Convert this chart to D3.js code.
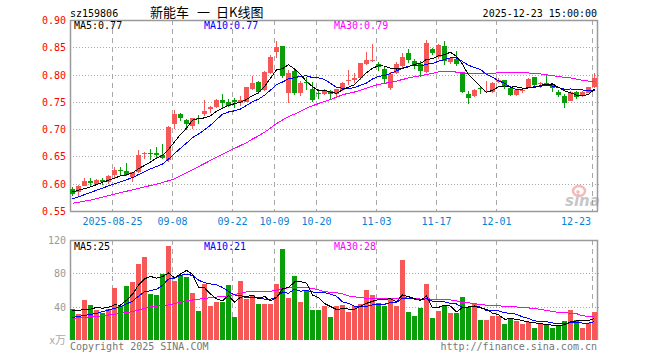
<!DOCTYPE html>
<html>
<head>
<meta charset="utf-8">
<script src="https://cdn.jsdelivr.net/npm/d3@7"></script>
<style>
  body { margin: 0; background: #fff; }
  svg text { font-family: "DejaVu Sans Mono", monospace; font-size: 10px; }
</style>
</head>
<body>
<svg id="chart" width="660" height="360"></svg>
<script>
// sz159806 daily K chart, 2025-08-14 .. 2025-12-23

var dates = [
  "2025-08-14","2025-08-15","2025-08-18","2025-08-19","2025-08-20","2025-08-21","2025-08-22","2025-08-25","2025-08-26","2025-08-27",
  "2025-08-28","2025-08-29","2025-09-01","2025-09-02","2025-09-03","2025-09-04","2025-09-05","2025-09-08","2025-09-09","2025-09-10",
  "2025-09-11","2025-09-12","2025-09-15","2025-09-16","2025-09-17","2025-09-18","2025-09-19","2025-09-22","2025-09-23","2025-09-24",
  "2025-09-25","2025-09-26","2025-09-29","2025-09-30","2025-10-09","2025-10-10","2025-10-13","2025-10-14","2025-10-15","2025-10-16",
  "2025-10-17","2025-10-20","2025-10-21","2025-10-22","2025-10-23","2025-10-24","2025-10-27","2025-10-28","2025-10-29","2025-10-30",
  "2025-10-31","2025-11-03","2025-11-04","2025-11-05","2025-11-06","2025-11-07","2025-11-10","2025-11-11","2025-11-12","2025-11-13",
  "2025-11-14","2025-11-17","2025-11-18","2025-11-19","2025-11-20","2025-11-21","2025-11-24","2025-11-25","2025-11-26","2025-11-27",
  "2025-11-28","2025-12-01","2025-12-02","2025-12-03","2025-12-04","2025-12-05","2025-12-08","2025-12-09","2025-12-10","2025-12-11",
  "2025-12-12","2025-12-15","2025-12-16","2025-12-17","2025-12-18","2025-12-19","2025-12-22","2025-12-23"
];

var opens = [
  0.591,0.584,0.596,0.605,0.600,0.607,0.603,0.616,0.625,0.624,
  0.613,0.621,0.654,0.657,0.657,0.652,0.643,0.709,0.727,0.717,
  0.706,0.720,0.727,0.737,0.740,0.754,0.750,0.753,0.748,0.750,
  0.774,0.787,0.771,0.803,0.842,0.852,0.766,0.807,0.766,0.787,
  0.774,0.767,0.765,0.769,0.765,0.771,0.789,0.790,0.794,0.820,
  0.825,0.820,0.811,0.776,0.802,0.815,0.839,0.825,0.820,0.804,
  0.847,0.832,0.852,0.823,0.828,0.802,0.764,0.760,0.775,0.768,
  0.768,0.787,0.790,0.776,0.762,0.771,0.776,0.796,0.782,0.785,
  0.780,0.768,0.760,0.751,0.768,0.762,0.767,0.777
];
var highs = [
  0.594,0.598,0.610,0.611,0.608,0.611,0.616,0.630,0.631,0.638,
  0.622,0.661,0.658,0.664,0.668,0.673,0.705,0.735,0.729,0.719,
  0.721,0.726,0.753,0.742,0.755,0.764,0.755,0.757,0.760,0.777,
  0.798,0.789,0.806,0.835,0.861,0.852,0.809,0.809,0.788,0.795,
  0.786,0.774,0.774,0.771,0.774,0.787,0.809,0.803,0.822,0.842,
  0.856,0.823,0.815,0.805,0.823,0.840,0.847,0.829,0.824,0.863,
  0.849,0.856,0.862,0.832,0.843,0.804,0.770,0.773,0.778,0.788,
  0.787,0.794,0.790,0.779,0.773,0.776,0.793,0.796,0.787,0.799,
  0.782,0.771,0.765,0.770,0.769,0.770,0.778,0.802
];
var lows = [
  0.578,0.578,0.595,0.595,0.598,0.597,0.600,0.611,0.615,0.614,
  0.603,0.619,0.645,0.643,0.646,0.646,0.640,0.700,0.715,0.699,
  0.700,0.709,0.724,0.729,0.738,0.739,0.741,0.738,0.742,0.749,
  0.771,0.765,0.769,0.801,0.831,0.793,0.748,0.762,0.761,0.772,
  0.750,0.756,0.762,0.753,0.757,0.770,0.781,0.785,0.790,0.818,
  0.823,0.807,0.782,0.772,0.801,0.811,0.822,0.811,0.795,0.802,
  0.835,0.828,0.818,0.819,0.816,0.766,0.746,0.759,0.765,0.767,
  0.767,0.785,0.773,0.760,0.761,0.766,0.775,0.779,0.776,0.779,
  0.768,0.759,0.739,0.751,0.755,0.758,0.766,0.776
];
var closes = [
  0.582,0.596,0.605,0.602,0.607,0.603,0.614,0.625,0.623,0.616,
  0.621,0.652,0.656,0.654,0.652,0.647,0.704,0.727,0.721,0.710,
  0.720,0.719,0.733,0.740,0.753,0.748,0.743,0.749,0.754,0.777,
  0.785,0.768,0.805,0.833,0.851,0.798,0.803,0.766,0.784,0.784,
  0.753,0.765,0.772,0.764,0.774,0.785,0.790,0.794,0.822,0.826,
  0.826,0.813,0.791,0.801,0.820,0.833,0.826,0.815,0.807,0.858,
  0.839,0.854,0.824,0.830,0.819,0.768,0.757,0.771,0.773,0.769,
  0.785,0.790,0.779,0.762,0.772,0.772,0.792,0.781,0.785,0.781,
  0.775,0.762,0.748,0.768,0.759,0.768,0.777,0.794
];
// volume in 万 (10k) lots
var volumes = [
  37.5,31.5,48.6,41.5,36.3,33,37,62.4,41,64.8,
  69.6,91.6,100,55.6,54,79.6,113,71,78,76,
  56.8,35,67.6,41,46,46,66,28,71,49.6,
  54,43.6,43.6,43.6,67.6,109,50.8,77,46,59,
  36.4,36.4,41,28,40.8,42,34,40.8,43.2,60,
  54,45,40.8,48.8,40.8,96,33.6,28.8,38.4,67.2,
  26.4,35.2,41.6,32.8,32.8,51.6,39.2,44.8,24,24,
  29.2,29.2,19.2,24.8,23.2,19.2,21.6,14.4,19.2,19.2,
  14.4,16.8,23.2,36,24,14.4,20,33.6
];

// moving-average values for the first bars
// (their windows reach back before the first bar shown)
var priceMa5Head  = [[0, 0.585], [3, 0.594]];
var priceMa10Head = [[0, 0.572], [3, 0.584], [7, 0.600]];
var priceMa30Head = [[0, 0.564], [3, 0.570], [7, 0.581], [12, 0.594], [15, 0.602], [17, 0.609],
                     [19, 0.620], [22, 0.637], [25, 0.654], [28, 0.670]];
var volMa5Head  = [[0, 35], [3, 37]];
var volMa10Head = [[0, 27], [4, 32], [8, 40]];
var volMa30Head = [[0, 26], [5, 29], [10, 34], [13, 40], [16, 42], [19, 47], [22, 50], [26, 53]];

var priceTicks = [0.55, 0.60, 0.65, 0.70, 0.75, 0.80, 0.85, 0.90];
var volTicks = [40, 80, 120];
var tickDates = ["2025-08-25","2025-09-08","2025-09-22","2025-10-09","2025-10-20",
                 "2025-11-03","2025-11-17","2025-12-01","2025-12-23"];

var title = "sz159806", titleName = ["新能车", "一", "日K线图"], stamp = "2025-12-23 15:00:00";
var maLabels = { ma5: "MA5:0.77", ma10: "MA10:0.77", ma30: "MA30:0.79" };
var volLabels = { ma5: "MA5:25", ma10: "MA10:21", ma30: "MA30:28" };

var RED = "#f65858", GREEN = "#0a9e0a", GRID = "#a8a8a8", FRAME = "#9a9a9a";
var LEFT = 70, RIGHT = 597;

var svg = d3.select("#chart");

var x = d3.scaleBand().domain(dates).range([LEFT, RIGHT]).paddingInner(1 / 6).paddingOuter(0);
var xc = function(i) { return x(dates[i]) + 2.5; };
var y = d3.scaleLinear().domain([0.55, 0.90]).range([211, 20]);
var yv = d3.scaleLinear().domain([0, 120]).range([340, 240]);

function isUp(i) { return closes[i] >= opens[i]; }

function movingAvg(values, n, head) {
  var pts = head.map(function(d) { return { i: d[0], v: d[1] }; });
  for (var i = n - 1; i < values.length; i++) {
    pts.push({ i: i, v: d3.mean(values.slice(i - n + 1, i + 1)) });
  }
  return pts;
}

function drawPanel(yScale, top, bottom, hTicks) {
  var g = svg.append("g");
  // horizontal dotted lines
  g.selectAll("line.h").data(hTicks).enter().append("line")
    .attr("x1", LEFT).attr("x2", RIGHT + 3)
    .attr("y1", function(d) { return Math.round(yScale(d)) + 0.5; })
    .attr("y2", function(d) { return Math.round(yScale(d)) + 0.5; })
    .attr("stroke", GRID).attr("stroke-dasharray", "1,2");
  // vertical dashed lines at the date ticks
  g.selectAll("line.v").data(tickDates).enter().append("line")
    .attr("x1", function(d) { return x(d) + 0.5; })
    .attr("x2", function(d) { return x(d) + 0.5; })
    .attr("y1", top).attr("y2", bottom)
    .attr("stroke", GRID).attr("stroke-dasharray", "5,4");
  // frame
  g.append("path")
    .attr("d", "M" + (RIGHT + 0.5) + "," + bottom + "V" + (top + 0.5) + "H" + (LEFT + 0.5) + "V" + bottom)
    .attr("fill", "none").attr("stroke", FRAME).attr("stroke-width", 1.5);
  return g;
}

// ---- price panel
drawPanel(y, 20, 211, [0.60, 0.65, 0.70, 0.75, 0.80, 0.85]);
svg.append("line").attr("x1", LEFT).attr("x2", RIGHT + 1)
  .attr("y1", 211.5).attr("y2", 211.5).attr("stroke", FRAME).attr("stroke-width", 1.5);

svg.append("g").selectAll("text").data(priceTicks).enter().append("text")
  .attr("x", 66).attr("y", function(d) { return y(d) + 4; })
  .attr("text-anchor", "end").attr("fill", "#f00")
  .text(function(d) { return d.toFixed(2); });

var candles = svg.append("g").attr("shape-rendering", "crispEdges");
var idx = d3.range(dates.length);
candles.selectAll("rect.wick").data(idx).enter().append("rect")
  .attr("x", function(i) { return x(dates[i]) + 2; })
  .attr("width", 1)
  .attr("y", function(i) { return y(highs[i]); })
  .attr("height", function(i) { return Math.max(1, y(lows[i]) - y(highs[i])); })
  .attr("fill", function(i) { return isUp(i) ? RED : GREEN; });
candles.selectAll("rect.body").data(idx).enter().append("rect")
  .attr("x", function(i) { return x(dates[i]); })
  .attr("width", x.bandwidth())
  .attr("y", function(i) { return y(Math.max(opens[i], closes[i])); })
  .attr("height", function(i) { return Math.max(1, Math.abs(y(opens[i]) - y(closes[i]))); })
  .attr("fill", function(i) { return isUp(i) ? RED : GREEN; });

var priceLine = d3.line().x(function(d) { return xc(d.i); }).y(function(d) { return y(d.v); });
[[priceMa30Head, 30, "#f0f"], [priceMa10Head, 10, "#00f"], [priceMa5Head, 5, "#000"]].forEach(function(m) {
  svg.append("path").datum(movingAvg(closes, m[1], m[0]))
    .attr("d", priceLine).attr("fill", "none").attr("stroke", m[2])
    .attr("stroke-width", 1).attr("shape-rendering", "crispEdges");
});

// date labels
svg.append("g").selectAll("text").data(tickDates).enter().append("text")
  .attr("x", function(d, i) { return i === tickDates.length - 1 ? x(d) - 1 : x(d) + 0.5; })
  .attr("y", 225)
  .attr("text-anchor", function(d, i) { return i === tickDates.length - 1 ? "end" : "middle"; })
  .attr("fill", "#0a7fd4")
  .text(function(d, i) { return i === 0 ? d : d.slice(5); });

// ---- volume panel
drawPanel(yv, 240, 340, [40, 80]);
svg.append("g").selectAll("text").data(volTicks).enter().append("text")
  .attr("x", 66).attr("y", function(d) { return yv(d) + 4; })
  .attr("text-anchor", "end").attr("fill", "#999")
  .text(function(d) { return d; });
svg.append("text").attr("x", 66).attr("y", 344).attr("text-anchor", "end")
  .attr("fill", "#aaa").style("font-family", "'Noto Sans CJK SC'").style("font-size", "11px").text("x万");

svg.append("g").attr("shape-rendering", "crispEdges")
  .selectAll("rect").data(idx).enter().append("rect")
  .attr("x", function(i) { return x(dates[i]); })
  .attr("width", x.bandwidth())
  .attr("y", function(i) { return yv(volumes[i]); })
  .attr("height", function(i) { return yv(0) - yv(volumes[i]); })
  .attr("fill", function(i) { return isUp(i) ? RED : GREEN; });

var volLine = d3.line().x(function(d) { return xc(d.i); }).y(function(d) { return yv(d.v); });
[[volMa30Head, 30, "#f0f"], [volMa10Head, 10, "#00f"], [volMa5Head, 5, "#000"]].forEach(function(m) {
  svg.append("path").datum(movingAvg(volumes, m[1], m[0]))
    .attr("d", volLine).attr("fill", "none").attr("stroke", m[2])
    .attr("stroke-width", 1).attr("shape-rendering", "crispEdges");
});

// ---- texts
svg.append("text").attr("x", 70).attr("y", 17).text(title);
svg.append("text").attr("x", 597).attr("y", 17).attr("text-anchor", "end").text(stamp);
svg.append("g").selectAll("text").data(titleName).enter().append("text")
  .attr("x", function(d, i) { return [150, 197, 216][i]; }).attr("y", 17)
  .style("font-family", "'Noto Sans CJK SC'").style("font-size", "13px")
  .text(function(d) { return d; });

function maText(yy, labels) {
  svg.append("text").attr("x", 74).attr("y", yy).attr("fill", "#000").text(labels.ma5);
  svg.append("text").attr("x", 204).attr("y", yy).attr("fill", "#00f").text(labels.ma10);
  svg.append("text").attr("x", 334).attr("y", yy).attr("fill", "#f0f").text(labels.ma30);
}
maText(29, maLabels);
maText(250, volLabels);

svg.append("text").attr("x", 70).attr("y", 350).attr("fill", "#777").text("Copyright 2025 SINA.COM");
svg.append("text").attr("x", 597).attr("y", 350).attr("text-anchor", "end").attr("fill", "#777")
  .text("http://finance.sina.com.cn");

// sina watermark
var logo = svg.append("g").attr("opacity", 0.55);
logo.append("ellipse").attr("cx", 579).attr("cy", 191).attr("rx", 6).attr("ry", 5)
  .attr("fill", "none").attr("stroke", "#f08080").attr("stroke-width", 2.5);
logo.append("circle").attr("cx", 578).attr("cy", 192).attr("r", 1.8).attr("fill", "#f08080");
logo.append("text").attr("x", 565).attr("y", 206)
  .style("font-family", "'DejaVu Sans'").style("font-size", "15px").style("font-weight", "bold")
  .style("font-style", "italic").attr("fill", "#999").text("sina");
</script>
</body>
</html>
